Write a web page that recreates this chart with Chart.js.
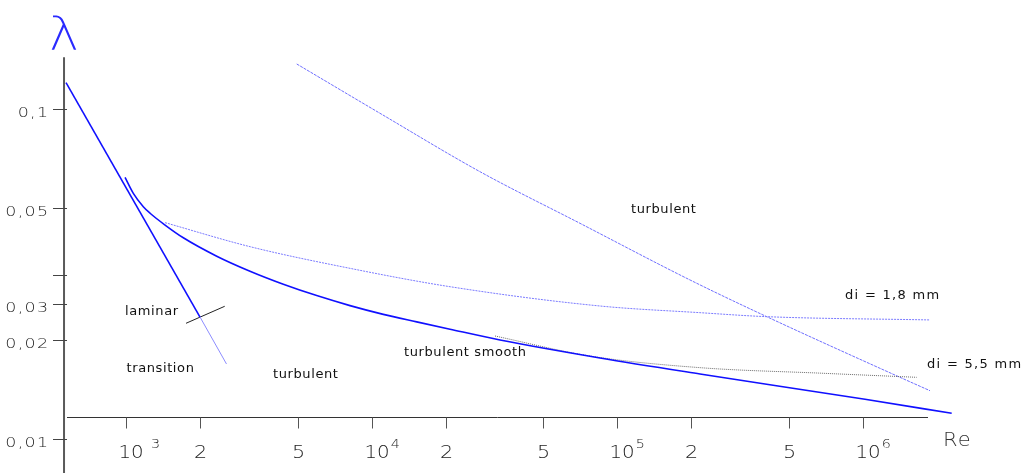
<!DOCTYPE html>
<html><head><meta charset="utf-8">
<script src="https://cdn.jsdelivr.net/npm/chart.js@4/dist/chart.umd.min.js"></script>
<style>html,body{margin:0;padding:0;background:#fff;overflow:hidden}#wrap{width:1030px;height:473px;position:relative}</style>
</head><body><div id="wrap"><canvas id="c"></canvas></div>
<script>
// ---- data (Re, lambda) ----
const laminarRe = [570, 2001];
const laminarLambda = [0.1199, 0.0234];
const transitionRe = [2001, 2564];
const transitionLambda = [0.0234, 0.01687];
const smoothRe = [991, 1071, 1176, 1253, 1442, 1711, 2340, 3196, 4368, 5972, 8160, 11150, 15250, 20830, 33290, 84970, 216900, 1018000, 2294000];
const smoothLambda = [0.06198, 0.05544, 0.05051, 0.04825, 0.04444, 0.04066, 0.03576, 0.03220, 0.02941, 0.02717, 0.02534, 0.02384, 0.02262, 0.02149, 0.01994, 0.01759, 0.01573, 0.01319, 0.01196];
const rough18Re = [1442, 3196, 8160, 20830, 84970, 216900, 405300, 1872000];
const rough18Lambda = [0.04518, 0.03822, 0.03286, 0.02891, 0.02527, 0.02412, 0.02346, 0.02293];
const rough55Re = [31760, 77330, 216900, 686800, 1652000];
const rough55Lambda = [0.02050, 0.01783, 0.01644, 0.01581, 0.01537];
const upperRe = [4953, 10810, 27600, 70430, 197500, 405300, 1413000, 1872000];
const upperLambda = [0.1366, 0.09685, 0.06445, 0.04498, 0.03030, 0.02346, 0.01537, 0.01400];
const markerRe = [1755, 2522];
const markerLambda = [0.02240, 0.02522];

// ---- axes / ticks ----
const xTickValues = [1000, 2000, 5000, 10000, 20000, 50000, 100000, 200000, 500000, 1000000];
const xTickBase = ['10 ', '2', '5', '10', '2', '5', '10', '2', '5', '10'];
const xTickExp = ['3', '', '', '4', '', '', '5', '', '', '6'];
const yTickValues = [0.1, 0.05, 0.0314, 0.0256, 0.02, 0.01];
const yTickLabels = ['0,1', '0,05', '', '0,03', '0,02', '0,01'];
const axisCrossRe = 559.4;       // where the lambda axis stands
const axisCrossLambda = 0.01165; // where the Re axis stands
const xAxisRange = [575.3, 1837000];
const yAxisTop = 0.1431;

// ---- annotations ----
const annoText = ['laminar', 'transition', 'turbulent', 'turbulent smooth', 'turbulent', 'di = 1,8 mm', 'di = 5,5 mm'];
const annoRe = [991, 1005, 3966, 13537, 113600, 844000, 1820000];
const annoLambda = [0.02424, 0.01629, 0.01563, 0.01827, 0.04953, 0.02709, 0.01681];
const axisTitleX = {text: 'Re', re: 2114000, lambda: 0.009861};
const axisTitleY = {text: 'λ', re: 486, lambda: 0.1506};

const pts = (xs, ys) => xs.map((x, i) => ({x: x, y: ys[i]}));

function drawText(ctx, txt, x, y, font, color, spacing, align, baseline, stretch) {
  stretch = stretch || 1;
  ctx.font = font;
  ctx.letterSpacing = spacing + 'px';
  ctx.fillStyle = color;
  ctx.textBaseline = baseline || 'alphabetic';
  ctx.textAlign = 'left';
  const w = (ctx.measureText(txt).width - spacing) * stretch;
  let left = x;
  if (align === 'right') left = x - w;
  else if (align === 'center') left = x - w / 2;
  ctx.save();
  ctx.translate(left, y);
  ctx.scale(stretch, 1);
  ctx.fillText(txt, 0, 0);
  ctx.restore();
  return left + w + spacing;
}

const axesPlugin = {
  id: 'axesPlugin',
  beforeDatasetsDraw(chart) {
    const ctx = chart.ctx, xs = chart.scales.x, ys = chart.scales.y;
    ctx.save();
    // lambda axis
    const ax = xs.getPixelForValue(axisCrossRe);
    ctx.strokeStyle = '#5a5a5a'; ctx.lineWidth = 2;
    ctx.beginPath(); ctx.moveTo(ax, ys.getPixelForValue(yAxisTop)); ctx.lineTo(ax, chart.height); ctx.stroke();
    ctx.lineWidth = 1; ctx.strokeStyle = '#444';
    yTickValues.forEach((v, i) => {
      const py = Math.round(ys.getPixelForValue(v)) + 0.5;
      ctx.beginPath(); ctx.moveTo(ax - 11, py); ctx.lineTo(ax + 3, py); ctx.stroke();
      if (yTickLabels[i]) drawText(ctx, yTickLabels[i], ax - 16, py + 7, '300 14px "DejaVu Sans"', '#222', 1, 'right', 'alphabetic', 1.25);
    });
    // Re axis
    const ay = Math.round(ys.getPixelForValue(axisCrossLambda)) + 0.5;
    ctx.strokeStyle = '#333'; ctx.lineWidth = 1;
    ctx.beginPath(); ctx.moveTo(xs.getPixelForValue(xAxisRange[0]), ay); ctx.lineTo(xs.getPixelForValue(xAxisRange[1]), ay); ctx.stroke();
    ctx.strokeStyle = '#555';
    xTickValues.forEach((v, i) => {
      const px = Math.round(xs.getPixelForValue(v)) + 0.5;
      ctx.beginPath(); ctx.moveTo(px, ay); ctx.lineTo(px, ay + 11); ctx.stroke();
      if (xTickExp[i]) {
        const end = drawText(ctx, xTickBase[i], px - 8, ay + 40.5, '300 18px "DejaVu Sans"', '#222', 0, 'left', 'alphabetic', 1.1);
        drawText(ctx, xTickExp[i], end + 1, ay + 30, '300 13px "DejaVu Sans"', '#222', 0, 'left', 'alphabetic', 1.1);
      } else {
        drawText(ctx, xTickBase[i], px, ay + 40.5, '300 18px "DejaVu Sans"', '#222', 0, 'center', 'alphabetic', 1.15);
      }
    });
    ctx.restore();
  },
  afterDatasetsDraw(chart) {
    const ctx = chart.ctx, xs = chart.scales.x, ys = chart.scales.y;
    ctx.save();
    annoText.forEach((t, i) => {
      const sp = t.startsWith('di') ? 1.3 : 0.6;
      drawText(ctx, t, xs.getPixelForValue(annoRe[i]), ys.getPixelForValue(annoLambda[i]), '13px "DejaVu Sans"', '#111', sp, 'left', 'middle');
    });
    drawText(ctx, axisTitleX.text, xs.getPixelForValue(axisTitleX.re), ys.getPixelForValue(axisTitleX.lambda), '300 20px "DejaVu Sans"', '#333', 1, 'left', 'middle', 1.05);
    drawText(ctx, axisTitleY.text, xs.getPixelForValue(axisTitleY.re), ys.getPixelForValue(axisTitleY.lambda), '200 46px "DejaVu Sans"', '#2a2aff', 0, 'left', 'alphabetic', 1.1);
    ctx.restore();
  }
};

const solidBlue = '#1010ff';
new Chart(document.getElementById('c'), {
  type: 'line',
  data: {
    datasets: [
      {label: 'laminar', data: pts(laminarRe, laminarLambda), borderColor: solidBlue, borderWidth: 1.6},
      {label: 'transition', data: pts(transitionRe, transitionLambda), borderColor: '#8c8cff', borderWidth: 1},
      {label: 'turbulent smooth', data: pts(smoothRe, smoothLambda), borderColor: solidBlue, borderWidth: 1.6, cubicInterpolationMode: 'monotone'},
      {label: 'di = 1,8 mm', data: pts(rough18Re, rough18Lambda), borderColor: '#7a7aff', borderWidth: 1, borderDash: [2, 1], cubicInterpolationMode: 'monotone'},
      {label: 'di = 5,5 mm', data: pts(rough55Re, rough55Lambda), borderColor: '#6a6a6a', borderWidth: 1, borderDash: [1, 1], cubicInterpolationMode: 'monotone'},
      {label: 'turbulent', data: pts(upperRe, upperLambda), borderColor: '#6e6eff', borderWidth: 1, borderDash: [3, 1], cubicInterpolationMode: 'monotone'},
      {label: 'marker', data: pts(markerRe, markerLambda), borderColor: '#222', borderWidth: 1}
    ]
  },
  options: {
    responsive: true,
    maintainAspectRatio: false,
    animation: false,
    layout: {padding: 0},
    elements: {point: {radius: 0, hoverRadius: 0}, line: {fill: false}},
    plugins: {legend: {display: false}, tooltip: {enabled: false}},
    events: [],
    scales: {
      x: {type: 'logarithmic', min: 307.0, max: 4778800, display: false, bounds: 'data'},
      y: {type: 'logarithmic', min: 0.0078875, max: 0.21339, display: false, bounds: 'data'}
    }
  },
  plugins: [axesPlugin]
});
</script>
</body></html>
